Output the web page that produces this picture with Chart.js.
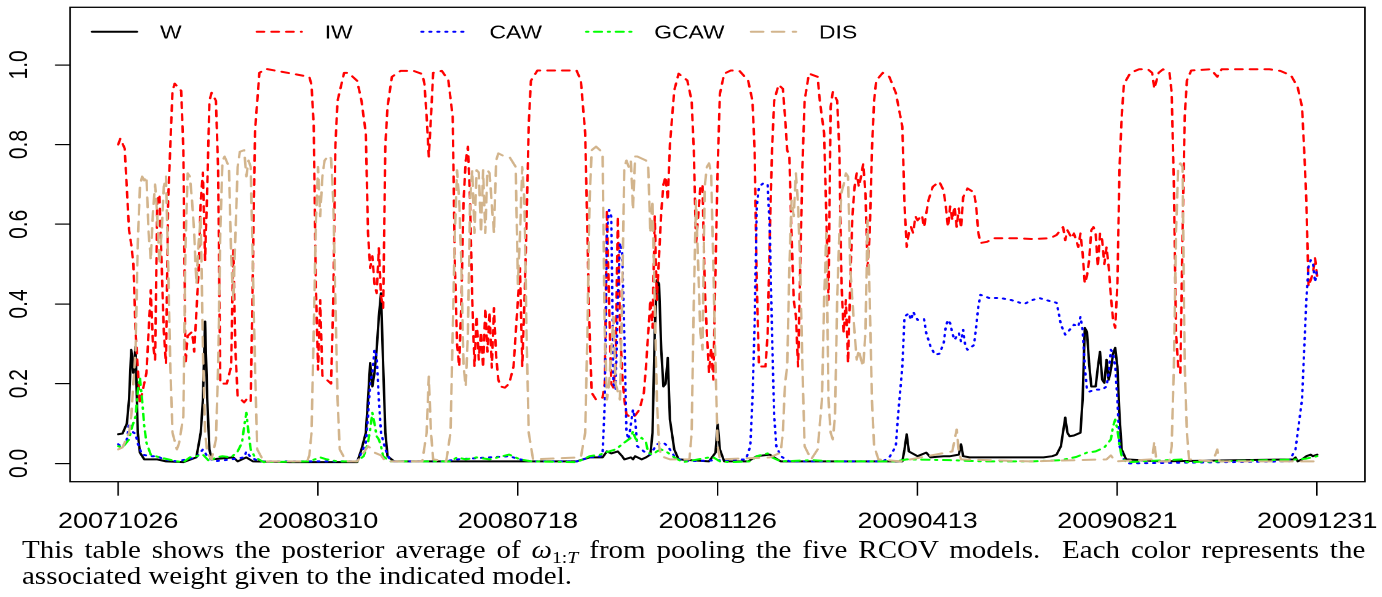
<!DOCTYPE html>
<html>
<head>
<meta charset="utf-8">
<script src="https://cdn.jsdelivr.net/npm/chart.js@4"></script>
<style>
  body { margin: 0; background: #fff; width: 1382px; height: 597px; overflow: hidden; position: relative; }
  /* the source figure is stretched sideways, so the chart is drawn narrow and widened */
  #wrap { position: absolute; left: 0; top: 0; width: 1124px; height: 540px; transform: scaleX(1.2295); transform-origin: 0 0; }
  /* caption set in a wide serif, imitated by widening Times a little */
  #caption { position: absolute; left: 22px; top: 537px; width: 1158px; transform: scaleX(1.16); transform-origin: 0 0;
             font-family: "Liberation Serif", serif; font-size: 25px; line-height: 26px; color: #000; }
  #caption .l1 { text-align: justify; text-align-last: justify; }
  #caption sub { font-size: 17px; line-height: 0; vertical-align: -5px; }
</style>
</head>
<body>
<div id="wrap"><canvas id="chart" width="1124" height="540"></canvas></div>
<div id="caption">
  <div class="l1">This table shows the posterior average of <i>ω</i><sub>1:<i>T</i></sub> from pooling the five RCOV models.&nbsp; Each color represents the</div>
  <div>associated weight given to the indicated model.</div>
</div>
<script>
// x = trading-day index, ticks every 92 days
const tickDays = [0, 92, 184, 276, 368, 460, 552];
const tickLabels = ['20071026', '20080310', '20080718', '20081126', '20090413', '20090821', '20091231'];
const yTicks = [0, 0.2, 0.4, 0.6, 0.8, 1.0];
const seriesNames = ['W', 'IW', 'CAW', 'GCAW', 'DIS'];

// [day, weight]
const wPts = [[0,0.073],[2,0.075],[4,0.10],[5,0.16],[6,0.285],[7,0.227],[8,0.293],[9,0.077],[10,0.027],[12,0.01],[18,0.01],[22,0.005],[30,0.003],[36,0.015],[38,0.077],[39,0.16],[40,0.356],[41,0.16],[42,0.035],[43,0.01],[53,0.015],[55,0.005],[59,0.015],[62,0.005],[79,0.003],[110,0.003],[112,0.035],[114,0.077],[115,0.16],[116,0.252],[117,0.193],[118,0.227],[119,0.285],[120,0.368],[121,0.427],[122,0.243],[123,0.077],[124,0.018],[127,0.005],[180,0.005],[211,0.005],[217,0.015],[223,0.015],[225,0.03],[227,0.025],[230,0.03],[232,0.018],[233,0.01],[236,0.015],[237,0.01],[238,0.018],[241,0.01],[243,0.015],[245,0.022],[246,0.077],[247,0.327],[248,0.46],[249,0.45],[250,0.285],[251,0.193],[252,0.2],[253,0.265],[254,0.11],[256,0.035],[258,0.01],[272,0.005],[275,0.027],[276,0.098],[277,0.035],[279,0.005],[290,0.005],[294,0.018],[300,0.022],[302,0.015],[305,0.005],[361,0.005],[362,0.035],[363,0.073],[364,0.03],[368,0.018],[372,0.027],[374,0.015],[380,0.018],[383,0.018],[387,0.022],[388,0.048],[389,0.018],[392,0.015],[426,0.015],[430,0.018],[432,0.022],[434,0.043],[436,0.115],[437,0.077],[438,0.068],[440,0.07],[443,0.077],[444,0.16],[445,0.34],[446,0.33],[447,0.25],[448,0.193],[450,0.193],[451,0.24],[452,0.28],[453,0.21],[454,0.202],[455,0.26],[456,0.21],[457,0.235],[458,0.275],[459,0.29],[460,0.243],[461,0.118],[462,0.035],[464,0.01],[480,0.005],[541,0.01],[542,0.015],[543,0.005],[545,0.01],[547,0.018],[549,0.022],[550,0.018],[552,0.022]];

const iwPts = [[0,0.80],[1,0.815],[3,0.79],[5,0.585],[6,0.55],[7,0.50],[8,0.33],[10,0.15],[13,0.227],[15,0.435],[16,0.30],[17,0.26],[18,0.66],[19,0.675],[21,0.33],[22,0.25],[23,0.66],[25,0.935],[26,0.953],[29,0.935],[30,0.785],[31,0.25],[32,0.32],[34,0.33],[35,0.28],[37,0.478],[38,0.66],[39,0.73],[40,0.51],[41,0.69],[42,0.91],[43,0.93],[45,0.91],[46,0.735],[47,0.2],[50,0.2],[52,0.243],[53,0.535],[54,0.28],[55,0.168],[58,0.153],[59,0.16],[61,0.153],[62,0.49],[63,0.836],[65,0.98],[68,0.99],[88,0.97],[89,0.95],[90,0.85],[91,0.45],[92,0.235],[93,0.41],[94,0.22],[96,0.21],[98,0.2],[99,0.41],[100,0.80],[101,0.91],[104,0.98],[106,0.98],[110,0.96],[112,0.91],[114,0.828],[115,0.578],[116,0.49],[117,0.52],[118,0.45],[119,0.427],[120,0.54],[121,0.42],[122,0.39],[123,0.80],[124,0.895],[126,0.97],[130,0.985],[136,0.985],[140,0.977],[141,0.952],[142,0.87],[143,0.77],[144,0.87],[145,0.98],[149,0.985],[152,0.961],[154,0.87],[155,0.5],[156,0.3],[157,0.243],[158,0.41],[159,0.66],[160,0.76],[161,0.795],[162,0.66],[163,0.41],[164,0.243],[165,0.37],[166,0.26],[167,0.33],[168,0.24],[169,0.39],[170,0.28],[171,0.38],[172,0.24],[173,0.39],[174,0.27],[175,0.21],[176,0.193],[178,0.19],[180,0.2],[182,0.243],[184,0.41],[185,0.49],[186,0.243],[187,0.4],[188,0.6],[189,0.85],[190,0.96],[193,0.986],[211,0.986],[213,0.961],[215,0.828],[216,0.578],[217,0.327],[218,0.177],[220,0.16],[223,0.165],[224,0.2],[225,0.636],[226,0.4],[227,0.2],[228,0.19],[229,0.25],[230,0.62],[231,0.35],[232,0.227],[233,0.16],[234,0.123],[236,0.115],[238,0.12],[240,0.135],[242,0.177],[243,0.243],[244,0.327],[245,0.41],[246,0.34],[247,0.62],[248,0.41],[249,0.52],[250,0.63],[251,0.70],[252,0.72],[253,0.66],[254,0.80],[256,0.936],[258,0.978],[262,0.961],[264,0.91],[265,0.786],[266,0.55],[267,0.62],[268,0.694],[269,0.70],[270,0.45],[271,0.327],[272,0.227],[273,0.29],[274,0.21],[275,0.49],[276,0.744],[277,0.927],[279,0.978],[282,0.986],[286,0.985],[290,0.961],[292,0.91],[293,0.786],[294,0.45],[295,0.243],[298,0.243],[299,0.327],[300,0.578],[301,0.786],[302,0.91],[304,0.95],[306,0.94],[307,0.87],[308,0.786],[309,0.77],[310,0.578],[311,0.41],[312,0.37],[313,0.243],[314,0.493],[315,0.744],[316,0.91],[318,0.978],[322,0.97],[323,0.91],[325,0.828],[326,0.62],[327,0.41],[328,0.895],[329,0.932],[331,0.91],[332,0.786],[333,0.45],[334,0.327],[335,0.41],[336,0.252],[337,0.45],[338,0.62],[339,0.694],[340,0.728],[341,0.694],[342,0.72],[343,0.752],[344,0.68],[345,0.493],[346,0.578],[347,0.786],[348,0.91],[349,0.961],[352,0.98],[355,0.97],[358,0.93],[361,0.845],[362,0.65],[363,0.543],[364,0.578],[365,0.593],[366,0.578],[367,0.62],[368,0.61],[370,0.623],[371,0.593],[373,0.66],[375,0.694],[378,0.707],[380,0.685],[381,0.645],[382,0.593],[383,0.645],[384,0.61],[385,0.645],[386,0.593],[387,0.64],[388,0.59],[389,0.668],[391,0.69],[394,0.68],[395,0.645],[396,0.578],[397,0.553],[400,0.556],[403,0.565],[414,0.565],[421,0.563],[429,0.565],[432,0.573],[435,0.593],[436,0.56],[437,0.585],[439,0.565],[440,0.577],[442,0.543],[443,0.577],[444,0.527],[445,0.452],[446,0.47],[447,0.51],[448,0.585],[449,0.593],[450,0.577],[451,0.493],[452,0.577],[453,0.56],[454,0.50],[455,0.543],[456,0.493],[457,0.42],[458,0.36],[459,0.34],[460,0.45],[461,0.744],[462,0.87],[463,0.952],[466,0.98],[470,0.989],[474,0.989],[476,0.98],[477,0.94],[479,0.98],[481,0.989],[484,0.98],[485,0.93],[486,0.70],[487,0.327],[488,0.243],[489,0.227],[490,0.578],[491,0.87],[492,0.961],[494,0.986],[503,0.989],[506,0.97],[508,0.989],[530,0.989],[535,0.985],[540,0.973],[543,0.944],[545,0.895],[546,0.786],[547,0.66],[548,0.444],[549,0.46],[550,0.477],[551,0.515],[552,0.468]];

const cawPts = [[0,0.048],[2,0.04],[4,0.06],[5,0.10],[6,0.095],[7,0.077],[8,0.075],[9,0.05],[11,0.022],[15,0.018],[18,0.018],[21,0.01],[27,0.005],[36,0.015],[39,0.035],[41,0.018],[44,0.005],[52,0.01],[58,0.015],[59,0.03],[61,0.015],[65,0.005],[110,0.005],[112,0.027],[114,0.052],[115,0.118],[116,0.202],[117,0.227],[118,0.285],[119,0.27],[120,0.16],[121,0.077],[123,0.035],[125,0.01],[127,0.005],[150,0.005],[156,0.01],[162,0.012],[171,0.015],[180,0.018],[185,0.01],[190,0.005],[211,0.005],[217,0.015],[222,0.018],[223,0.025],[224,0.15],[225,0.578],[226,0.636],[227,0.62],[228,0.2],[229,0.185],[230,0.41],[231,0.553],[232,0.53],[233,0.327],[234,0.077],[235,0.06],[237,0.135],[238,0.11],[239,0.043],[242,0.03],[245,0.022],[248,0.048],[251,0.052],[253,0.043],[256,0.018],[260,0.005],[289,0.01],[291,0.043],[292,0.16],[293,0.35],[294,0.645],[295,0.694],[297,0.703],[299,0.70],[300,0.578],[301,0.327],[302,0.118],[303,0.043],[305,0.018],[309,0.005],[352,0.005],[355,0.015],[358,0.043],[359,0.118],[361,0.243],[362,0.368],[364,0.377],[365,0.36],[366,0.38],[368,0.36],[371,0.362],[372,0.327],[374,0.293],[376,0.273],[378,0.275],[380,0.30],[381,0.343],[382,0.36],[383,0.352],[384,0.327],[385,0.31],[387,0.327],[388,0.306],[389,0.335],[390,0.293],[391,0.285],[394,0.297],[395,0.343],[396,0.394],[397,0.423],[401,0.415],[406,0.415],[411,0.41],[417,0.40],[421,0.41],[424,0.415],[429,0.407],[432,0.403],[433,0.377],[434,0.348],[436,0.323],[438,0.335],[440,0.348],[442,0.343],[443,0.368],[444,0.335],[445,0.243],[446,0.185],[447,0.18],[450,0.185],[453,0.185],[455,0.193],[456,0.227],[457,0.285],[458,0.276],[459,0.243],[460,0.16],[461,0.043],[463,0.01],[465,0.0],[539,0.005],[542,0.035],[543,0.077],[545,0.16],[546,0.285],[547,0.41],[548,0.493],[549,0.51],[550,0.505],[551,0.455],[552,0.49]];

const gcawPts = [[0,0.043],[2,0.04],[5,0.06],[6,0.085],[8,0.118],[9,0.18],[10,0.215],[11,0.16],[12,0.093],[13,0.052],[15,0.022],[19,0.015],[27,0.005],[30,0.003],[33,0.015],[36,0.018],[39,0.022],[42,0.005],[45,0.015],[48,0.018],[52,0.015],[55,0.03],[57,0.052],[58,0.093],[59,0.127],[60,0.077],[61,0.035],[63,0.015],[67,0.003],[88,0.005],[93,0.015],[96,0.01],[101,0.005],[110,0.005],[113,0.018],[115,0.052],[116,0.085],[117,0.127],[118,0.10],[119,0.068],[120,0.06],[121,0.043],[122,0.018],[125,0.005],[153,0.005],[156,0.015],[160,0.01],[165,0.015],[171,0.01],[177,0.018],[180,0.022],[185,0.01],[190,0.005],[211,0.003],[214,0.01],[217,0.018],[222,0.022],[224,0.027],[226,0.03],[229,0.035],[233,0.052],[236,0.064],[237,0.081],[238,0.064],[239,0.056],[241,0.064],[243,0.052],[244,0.027],[246,0.022],[248,0.03],[250,0.035],[253,0.027],[256,0.015],[260,0.003],[272,0.015],[274,0.015],[277,0.005],[282,0.003],[291,0.005],[294,0.018],[299,0.025],[301,0.015],[305,0.005],[320,0.008],[328,0.005],[358,0.005],[363,0.01],[383,0.008],[398,0.005],[421,0.005],[434,0.008],[441,0.016],[446,0.027],[450,0.03],[454,0.04],[457,0.06],[458,0.093],[459,0.11],[460,0.085],[461,0.045],[462,0.018],[464,0.003],[490,0.01],[492,0.003],[543,0.01],[547,0.012],[552,0.018]];

const disPts = [[0,0.035],[2,0.04],[5,0.077],[6,0.118],[8,0.285],[9,0.55],[10,0.694],[11,0.72],[12,0.71],[13,0.72],[14,0.578],[15,0.51],[16,0.63],[17,0.70],[18,0.62],[19,0.50],[20,0.58],[21,0.694],[22,0.72],[23,0.50],[24,0.243],[25,0.077],[27,0.035],[28,0.05],[30,0.118],[31,0.55],[32,0.728],[33,0.72],[34,0.66],[35,0.578],[36,0.45],[37,0.55],[38,0.62],[39,0.285],[40,0.077],[41,0.027],[43,0.01],[45,0.06],[46,0.243],[47,0.578],[48,0.76],[49,0.77],[51,0.744],[52,0.52],[53,0.41],[54,0.578],[55,0.744],[56,0.782],[58,0.786],[59,0.72],[60,0.76],[61,0.744],[62,0.49],[63,0.24],[64,0.035],[67,0.005],[87,0.005],[88,0.02],[89,0.077],[90,0.327],[91,0.6],[92,0.744],[93,0.62],[94,0.72],[95,0.76],[97,0.773],[98,0.765],[99,0.66],[100,0.41],[101,0.16],[102,0.035],[105,0.005],[110,0.005],[113,0.027],[115,0.043],[117,0.035],[118,0.027],[121,0.02],[123,0.005],[140,0.005],[142,0.077],[143,0.218],[144,0.077],[145,0.01],[151,0.005],[153,0.077],[154,0.327],[155,0.578],[156,0.736],[157,0.66],[158,0.493],[159,0.243],[160,0.193],[161,0.327],[162,0.66],[163,0.736],[164,0.578],[165,0.736],[166,0.73],[167,0.578],[168,0.736],[169,0.578],[170,0.736],[171,0.728],[172,0.65],[173,0.578],[174,0.76],[175,0.778],[178,0.77],[180,0.77],[183,0.744],[184,0.45],[185,0.578],[186,0.744],[187,0.66],[188,0.327],[189,0.077],[191,0.01],[213,0.015],[215,0.077],[216,0.327],[217,0.66],[218,0.786],[220,0.795],[223,0.78],[224,0.327],[225,0.16],[226,0.2],[228,0.368],[229,0.2],[231,0.16],[232,0.41],[233,0.744],[234,0.76],[235,0.744],[236,0.76],[237,0.636],[238,0.77],[239,0.77],[243,0.76],[244,0.744],[245,0.578],[246,0.66],[247,0.41],[248,0.16],[249,0.043],[250,0.018],[254,0.01],[263,0.01],[264,0.077],[265,0.41],[266,0.66],[267,0.5],[268,0.327],[269,0.285],[270,0.694],[271,0.744],[272,0.753],[273,0.728],[274,0.493],[275,0.243],[276,0.043],[277,0.01],[300,0.015],[305,0.027],[306,0.077],[307,0.2],[308,0.243],[309,0.493],[310,0.66],[311,0.62],[312,0.728],[313,0.65],[314,0.49],[315,0.243],[316,0.043],[319,0.01],[322,0.035],[324,0.16],[325,0.41],[326,0.578],[327,0.16],[328,0.077],[329,0.06],[330,0.118],[331,0.41],[332,0.578],[333,0.68],[334,0.70],[335,0.728],[336,0.72],[337,0.493],[338,0.41],[339,0.327],[340,0.26],[341,0.285],[342,0.26],[343,0.243],[344,0.327],[345,0.61],[346,0.41],[347,0.16],[348,0.043],[350,0.01],[360,0.005],[384,0.03],[386,0.085],[387,0.03],[388,0.01],[420,0.005],[455,0.01],[457,0.02],[459,0.005],[476,0.01],[477,0.055],[478,0.005],[484,0.005],[485,0.043],[486,0.243],[487,0.578],[488,0.744],[489,0.753],[490,0.744],[491,0.243],[492,0.077],[493,0.01],[504,0.005],[506,0.035],[507,0.005],[552,0.005]];

const seriesPts = [wPts, iwPts, cawPts, gcawPts, disPts];
const seriesColors = ['#000000', '#ff0000', '#0000ff', '#00ff00', '#d2b48c'];
const seriesDash = [[], [6, 6], [1.5, 5], [1.6, 4.8, 6.4, 4.8], [10, 7]];

// box round the plot region, like R's bty="o"
const frame = {
  id: 'frame',
  afterDraw(c) {
    const {ctx, chartArea: a} = c;
    ctx.save();
    ctx.strokeStyle = '#000';
    ctx.lineWidth = 1.3;
    ctx.strokeRect(a.left, a.top, a.right - a.left, a.bottom - a.top);
    ctx.restore();
  }
};

// horizontal key inside the box, no border
const key = {
  id: 'key',
  afterDraw(c) {
    const ctx = c.ctx;
    ctx.save();
    c.data.datasets.forEach((ds, i) => {
      const x = 74.8 + i * 134, y = 31.7;
      ctx.strokeStyle = ds.borderColor;
      ctx.lineWidth = 2;
      ctx.lineCap = 'round';
      ctx.setLineDash(ds.borderDash);
      ctx.beginPath(); ctx.moveTo(x, y); ctx.lineTo(x + 36.6, y); ctx.stroke();
      ctx.setLineDash([]);
      ctx.fillStyle = '#000';
      ctx.font = '18.6px "Liberation Sans"';
      ctx.textBaseline = 'alphabetic';
      ctx.fillText(ds.label, x + 55.3, 38.3);
    });
    ctx.restore();
  }
};

// ticks sit well inside the box, so the axes need no label overhang
function noOverhang(s) {
  s.paddingLeft = 0; s.paddingRight = 0; s.paddingTop = 0; s.paddingBottom = 0;
}

new Chart(document.getElementById('chart'), {
  type: 'line',
  data: {
    datasets: seriesNames.map((name, i) => ({
      label: name,
      data: seriesPts[i].map(p => ({x: p[0], y: p[1]})),
      borderColor: seriesColors[i],
      borderDash: seriesDash[i],
      borderWidth: 2,
      borderCapStyle: 'round',
      borderJoinStyle: 'round',
      pointRadius: 0,
      tension: 0,
      fill: false,
      order: seriesNames.length - i
    }))
  },
  options: {
    responsive: false,
    animation: false,
    devicePixelRatio: 2,
    layout: {padding: {left: 0, right: 13.8, top: 7.3, bottom: 0}},
    plugins: {legend: {display: false}, tooltip: {enabled: false}},
    scales: {
      x: {
        type: 'linear', min: -22.2, max: 574,
        afterBuildTicks: s => { s.ticks = tickDays.map(v => ({value: v})); },
        afterFit: s => { s.height = 58.3; noOverhang(s); },
        border: {display: false},
        grid: {drawOnChartArea: false, tickLength: 14, color: '#000', lineWidth: 1.2},
        ticks: {
          autoSkip: false, maxRotation: 0, minRotation: 0, padding: 13, color: '#000',
          font: {family: 'Liberation Sans', size: 22},
          callback: v => tickLabels[tickDays.indexOf(v)]
        }
      },
      y: {
        min: -0.046, max: 1.1445,
        afterBuildTicks: s => { s.ticks = yTicks.map(v => ({value: v})); },
        afterFit: s => { s.width = 56.9; noOverhang(s); },
        border: {display: false},
        grid: {drawOnChartArea: false, tickLength: 12.2, color: '#000', lineWidth: 1.2},
        ticks: {
          autoSkip: false, minRotation: 90, maxRotation: 90, crossAlign: 'center', padding: 13.8, color: '#000',
          font: {family: 'Liberation Sans', size: 21},
          callback: v => v.toFixed(1)
        }
      }
    }
  },
  plugins: [frame, key]
});
</script>
</body>
</html>
